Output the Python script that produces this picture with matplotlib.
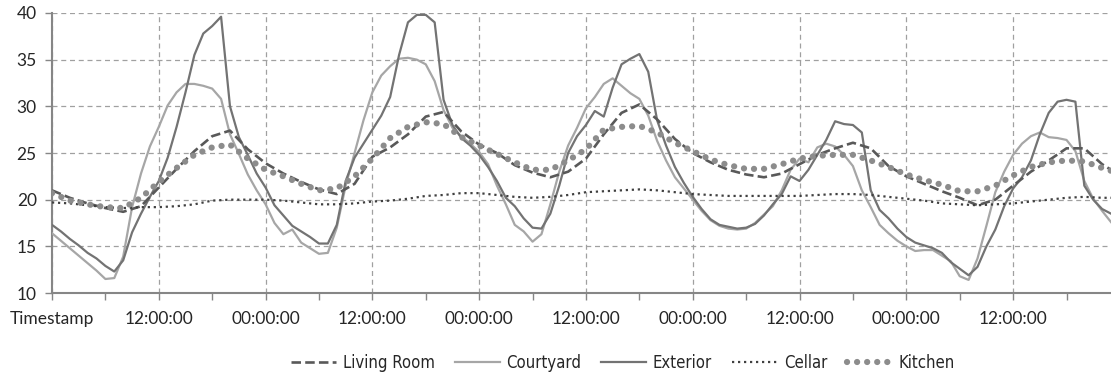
import numpy as np
import matplotlib
matplotlib.use("Agg")
import matplotlib.pyplot as plt
from matplotlib.ticker import MultipleLocator, FixedLocator

# ----------------------------
# Data (hours from start)
# ----------------------------

hours_1h = np.arange(0, 120)
hours_2h = np.arange(0, 121, 2)

exterior = [
    17.3, 16.6, 15.8, 15.1, 14.3, 13.7, 12.9, 12.3, 13.5, 16.5,
    18.5, 20.3, 22.0, 24.5, 27.8, 31.5, 35.5, 37.8, 38.6, 39.6,
    30.0, 26.7, 24.8, 22.8, 21.3, 19.4, 18.3, 17.2, 16.6, 16.0,
    15.3, 15.3, 17.3, 22.0, 24.5, 26.0, 27.5, 29.0, 31.0, 35.5,
    39.0, 39.8, 39.8, 39.0, 30.7, 28.0, 26.6, 25.8, 24.8, 23.5,
    22.0, 20.2, 19.3, 18.0, 17.0, 16.9, 18.5, 21.5, 25.0, 26.8,
    28.0, 29.5, 28.9, 32.0, 34.5, 35.1, 35.6, 33.7, 28.5, 25.8,
    23.5, 21.8, 20.3, 19.0, 17.9, 17.3, 17.1, 16.9, 17.0, 17.4,
    18.3, 19.5, 20.6, 22.5, 22.0, 23.2, 24.8, 26.4, 28.4, 28.1,
    28.0, 27.2, 21.0, 18.9, 18.0, 16.9, 16.0, 15.4, 15.1, 14.8,
    14.3, 13.3, 12.6, 11.9, 12.8, 15.0, 16.8, 19.3, 21.2, 22.4,
    24.2, 27.0, 29.3, 30.5, 30.7, 30.5, 21.5, 20.0, 19.0, 18.5,
]

courtyard = [
    16.4, 15.6, 14.8, 14.0, 13.2, 12.4, 11.5, 11.6, 13.9, 19.2,
    22.8, 25.7, 27.8, 30.1, 31.5, 32.4, 32.4, 32.2, 31.9, 30.8,
    27.0, 24.9, 22.7, 21.0, 19.5, 17.5, 16.3, 16.8, 15.4, 14.8,
    14.2, 14.3, 17.0, 21.5, 25.0, 28.5, 31.5, 33.3, 34.3, 35.1,
    35.2, 35.0, 34.5, 32.7, 29.6, 27.7, 26.8, 26.0, 25.1, 23.8,
    21.5, 19.5, 17.3, 16.6, 15.5, 16.3, 19.5, 23.0, 25.8, 27.7,
    29.8, 31.0, 32.4, 33.0, 32.2, 31.4, 30.8, 29.0, 26.3, 24.2,
    22.4, 21.2, 20.0, 18.8, 17.8, 17.2, 16.9, 16.8, 16.9, 17.5,
    18.4, 19.3, 21.0, 23.2, 24.4, 24.0, 25.6, 26.0, 25.7, 24.8,
    23.6, 21.0, 19.2, 17.3, 16.4, 15.6, 15.0, 14.5, 14.6, 14.6,
    14.0, 13.4, 11.8, 11.4, 13.7, 17.2, 20.8, 23.0, 24.8, 26.0,
    26.8, 27.2, 26.7, 26.6, 26.4, 25.2, 22.0, 20.1, 18.8, 17.6,
]

living_room = [
    21.0, 20.2, 19.6, 19.1, 18.7, 19.3, 21.3, 23.3, 25.2, 26.8,
    27.4, 25.4, 23.9, 22.8, 21.9, 21.1, 20.6, 21.7, 24.6, 25.6,
    27.0, 28.9, 29.4, 27.3, 25.9, 25.0, 23.7, 22.9, 22.4, 23.0,
    24.4, 27.0, 29.3, 30.2, 28.6, 26.5, 25.0, 24.0, 23.2, 22.7,
    22.4, 22.8, 23.8, 24.8, 25.5, 26.1, 25.5, 23.6, 22.5, 21.7,
    20.9, 20.2, 19.4, 20.0, 21.5, 23.0, 24.2, 25.5, 25.5, 23.8,
    22.6,
]

kitchen = [
    20.7, 19.9, 19.5, 19.2, 19.1, 20.2, 21.9, 23.4, 24.8, 25.6,
    25.9, 24.4, 23.2, 22.5, 21.7, 21.0, 21.2, 22.5, 24.4, 26.6,
    27.8, 28.3, 28.1, 26.7, 25.8, 24.9, 24.0, 23.2, 23.2, 24.2,
    25.4, 27.5, 27.8, 27.9, 27.2, 26.1, 25.2, 24.3, 23.7, 23.3,
    23.3, 23.8, 24.4, 24.7, 24.8, 24.8, 24.2, 23.5, 22.7, 22.1,
    21.6, 20.9, 20.9, 21.5, 22.6, 23.5, 24.0, 24.2, 24.1, 23.4,
    22.8,
]

cellar = [
    19.7, 19.6, 19.4, 19.2, 19.1, 19.2, 19.2, 19.3, 19.5, 19.9,
    20.0, 20.0, 20.0, 19.9, 19.7, 19.5, 19.5, 19.6, 19.8, 19.9,
    20.1, 20.4, 20.5, 20.7, 20.7, 20.5, 20.3, 20.2, 20.3, 20.5,
    20.8, 20.9, 21.0, 21.1, 21.0, 20.8, 20.6, 20.5, 20.4, 20.4,
    20.4, 20.4, 20.4, 20.5, 20.6, 20.6, 20.5, 20.3, 20.1, 19.9,
    19.6, 19.5, 19.4, 19.5, 19.6, 19.8, 20.0, 20.2, 20.3, 20.2,
    20.2,
]

tick_hours = np.arange(0, 109, 12)
tick_labels = ["Timestamp", "12:00:00", "00:00:00", "12:00:00", "00:00:00",
               "12:00:00", "00:00:00", "12:00:00", "00:00:00", "12:00:00"]

# ----------------------------
# Plot
# ----------------------------

plt.rcParams["font.family"] = ["Lato", "DejaVu Sans"]

fig = plt.figure(figsize=(11.11, 3.78), dpi=100)
ax = fig.add_axes([52 / 1111, 1 - 293 / 378, 1 - 52 / 1111, 280 / 378])

ax.plot(hours_2h, living_room, color="#595959", lw=1.9, ls=(0, (3.6, 1.6)),
        label="Living Room", zorder=4)
ax.plot(hours_1h, courtyard, color="#a6a6a6", lw=1.6, label="Courtyard", zorder=3)
ax.plot(hours_1h, exterior, color="#737373", lw=1.6, label="Exterior", zorder=3)
ax.plot(hours_2h, cellar, color="#404040", lw=1.6, ls=(0, (1, 1.7)),
        label="Cellar", zorder=4)
ax.plot(hours_2h, kitchen, color="#8c8c8c", lw=4.5, ls=(0, (0.01, 1.6)),
        dash_capstyle="round", label="Kitchen", zorder=4)

ax.set_xlim(0, 119)
ax.set_ylim(10, 40)
ax.yaxis.set_major_locator(MultipleLocator(5))
ax.xaxis.set_major_locator(FixedLocator(tick_hours))
ax.set_xticklabels(tick_labels)
ax.xaxis.set_minor_locator(MultipleLocator(6))

ax.grid(True, which="major", color="#a0a0a0", lw=0.9, ls=(0, (4, 3)))
ax.set_axisbelow(True)

for s in ["top", "right"]:
    ax.spines[s].set_visible(False)
for s in ["left", "bottom"]:
    ax.spines[s].set_color("#868686")
    ax.spines[s].set_linewidth(1.5)

ax.tick_params(axis="both", which="both", direction="out", length=5,
               color="#868686", width=1, labelsize=12.5, labelcolor="#262626")
ax.tick_params(axis="x", pad=8)
ax.tick_params(axis="y", pad=6)

leg = fig.legend(loc="center", bbox_to_anchor=(623 / 1111, 1 - 363 / 378), ncol=5,
                 frameon=False, handlelength=2.7, handletextpad=0.4,
                 columnspacing=1.2,
                 prop={"family": "DejaVu Sans", "stretch": "condensed", "size": 12})
for t in leg.get_texts():
    t.set_color("#262626")

fig.savefig("out.png", dpi=100)
